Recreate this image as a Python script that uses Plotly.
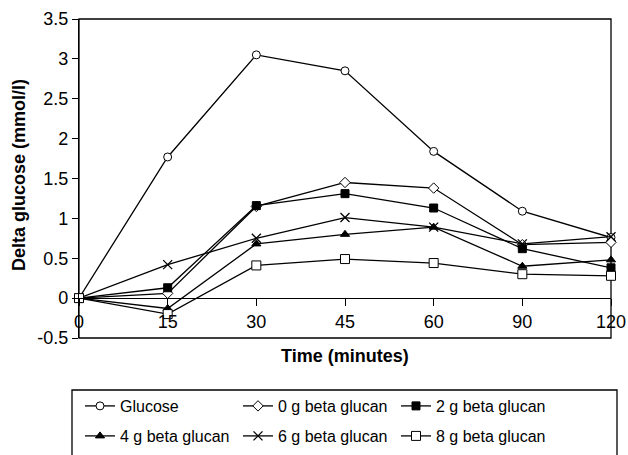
import plotly.graph_objects as go

times = ["0", "15", "30", "45", "60", "90", "120"]

glucose = [0, 1.77, 3.05, 2.85, 1.84, 1.09, 0.76]
bg0 = [0, 0.06, 1.15, 1.45, 1.38, 0.67, 0.70]
bg2 = [0, 0.13, 1.16, 1.31, 1.13, 0.62, 0.38]
bg4 = [0, -0.13, 0.68, 0.80, 0.89, 0.40, 0.48]
bg6 = [0, 0.42, 0.75, 1.01, 0.89, 0.68, 0.77]
bg8 = [0, -0.20, 0.41, 0.49, 0.44, 0.30, 0.28]

names = ["Glucose", "0 g beta glucan", "2 g beta glucan",
         "4 g beta glucan", "6 g beta glucan", "8 g beta glucan"]
series = [glucose, bg0, bg2, bg4, bg6, bg8]

yticks = [-0.5, 0, 0.5, 1, 1.5, 2, 2.5, 3, 3.5]
yticklabels = ["-0.5", "0", "0.5", "1", "1.5", "2", "2.5", "3", "3.5"]

styles = [
    dict(symbol="circle", color="white", size=8, line=dict(color="black", width=1)),
    dict(symbol="diamond", color="white", size=8, line=dict(color="black", width=1)),
    dict(symbol="square", color="black", size=8, line=dict(color="black", width=1)),
    dict(symbol="triangle-up", color="black", size=8, line=dict(color="black", width=1)),
    dict(symbol="x-thin", color="black", size=9, line=dict(color="black", width=1.3)),
    dict(symbol="square", color="white", size=9, line=dict(color="black", width=1)),
]

FONT = "Liberation Sans, Arial, sans-serif"
W, H = 628, 455
L, T = 79, 19
R = W - 611
B = H - 338
pw = W - L - R
ph = H - T - B

def px(xr):
    return (xr - L) / pw

def py(yr):
    return (H - B - yr) / ph

fig = go.Figure()
for i, (nm, vals, st) in enumerate(zip(names, series, styles)):
    fig.add_trace(go.Scatter(
        x=times, y=vals, name=nm, mode="lines+markers",
        line=dict(color="black", width=1.3),
        marker=st,
        legend="legend" if i < 3 else "legend2",
        cliponaxis=False,
    ))

legend_common = dict(
    orientation="h", xanchor="left", yanchor="top",
    xref="container", yref="container",
    font=dict(family=FONT, size=16, color="black"),
    bgcolor="rgba(0,0,0,0)", borderwidth=0,
    entrywidth=113, entrywidthmode="pixels",
    traceorder="normal", itemwidth=30,
)

fig.update_layout(
    width=W, height=H,
    margin=dict(l=L, r=R, t=T, b=B, pad=0, autoexpand=False),
    plot_bgcolor="white", paper_bgcolor="white",
    font=dict(family=FONT, size=18, color="black"),
    xaxis=dict(
        type="category", range=[0, len(times) - 1],
        anchor="free", position=py(298),
        showline=True, linecolor="black", linewidth=1.3,
        ticks="outside", ticklen=7, tickwidth=1.3, tickcolor="black",
        showgrid=False, zeroline=False,
        tickfont=dict(family=FONT, size=18, color="black"),
    ),
    yaxis=dict(
        range=[-0.5, 3.5], domain=[0, 1],
        tickvals=yticks, ticktext=yticklabels,
        showline=True, linecolor="black", linewidth=1.3,
        ticks="outside", ticklen=6, tickwidth=1.3, tickcolor="black",
        showgrid=False, zeroline=False,
        tickfont=dict(family=FONT, size=18, color="black"),
    ),
    legend=dict(x=80 / W, y=1 - 389 / H, **legend_common),
    legend2=dict(x=80 / W, y=1 - 419 / H, **legend_common),
    showlegend=True,
)

# plot-area frame
fig.add_shape(type="rect", xref="paper", yref="paper", x0=0, x1=1, y0=0, y1=1,
              line=dict(color="black", width=1.3), layer="below")
# legend frame
fig.add_shape(type="rect", xref="paper", yref="paper",
              x0=px(72), x1=px(617), y0=py(458), y1=py(390),
              line=dict(color="black", width=1.3))

fig.add_annotation(text="<b>Time (minutes)</b>", xref="paper", yref="paper",
                   x=0.5, y=py(356), xanchor="center", yanchor="middle",
                   showarrow=False, font=dict(family=FONT, size=18, color="black"))
fig.add_annotation(text="<b>Delta glucose (mmol/l)</b>", xref="paper", yref="paper",
                   x=px(19), y=py(175), xanchor="center", yanchor="middle",
                   textangle=-90, showarrow=False,
                   font=dict(family=FONT, size=18, color="black"))

fig.write_html(
    "out.html",
    config={"displayModeBar": False},
    post_script="document.body.style.margin='0';document.body.style.overflow='hidden';",
)
